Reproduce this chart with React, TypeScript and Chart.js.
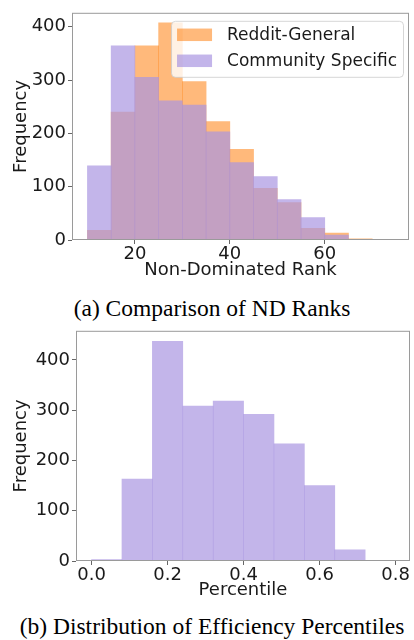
import { useEffect, useRef } from "react";
import { Chart, registerables } from "chart.js";

Chart.register(...registerables);

// ---- Data (a): Non-Dominated Rank histogram ----
const ndBinEdges = [10, 15, 20, 25, 30, 35, 40, 45, 50, 55, 60, 65, 70];
const redditGeneral = [18, 240, 364, 407, 297, 222, 170, 97, 70, 22, 13, 2];
const communitySpecific = [139, 364, 305, 261, 253, 203, 145, 119, 76, 42, 9, 0];
const ndXTicks = [20, 40, 60];
const ndYTicks = [0, 100, 200, 300, 400];
const seriesLabels = ["Reddit-General", "Community Specific"];

// ---- Data (b): Efficiency percentile histogram ----
const pctBinEdges = [0, 0.08, 0.16, 0.24, 0.32, 0.4, 0.48, 0.56, 0.64, 0.72, 0.8];
const efficiencyCounts = [3, 163, 437, 308, 318, 292, 233, 150, 22, 0];
const pctXTicks = [0, 0.2, 0.4, 0.6, 0.8];
const pctYTicks = [0, 100, 200, 300, 400];

const captionA = "(a) Comparison of ND Ranks";
const captionB = "(b) Distribution of Efficiency Percentiles";

const ORANGE = "rgba(255,127,14,0.55)";
const PURPLE = "rgba(170,150,225,0.7)";
const TEXT = "#1a1a1a";
const SPINE = "#9a9a9a";
const FONT = "'DejaVu Sans', sans-serif";
const AXIS_FONT_SIZE = 18;
const LEGEND_FONT_SIZE = 17;

function toPoints(edges: number[], counts: number[]) {
  return counts.map((c, i) => ({ x: (edges[i] + edges[i + 1]) / 2, y: c }));
}

const framePlugin = {
  id: "frame",
  afterDatasetsDraw(chart: any) {
    const { ctx, chartArea } = chart;
    ctx.save();
    ctx.strokeStyle = SPINE;
    ctx.lineWidth = 1;
    ctx.strokeRect(
      chartArea.left + 0.5,
      chartArea.top + 0.5,
      chartArea.right - chartArea.left - 1,
      chartArea.bottom - chartArea.top - 1
    );
    ctx.restore();
  },
};

const insideLegendPlugin = {
  id: "insideLegend",
  afterDraw(chart: any, _args: any, opts: any) {
    if (!opts || !opts.enabled) return;
    const { ctx, chartArea } = chart;
    const datasets = chart.data.datasets;
    ctx.save();
    ctx.font = `${LEGEND_FONT_SIZE}px ${FONT}`;
    let maxW = 0;
    datasets.forEach((d: any) => {
      maxW = Math.max(maxW, ctx.measureText(d.label).width);
    });
    const pad = 6;
    const patchW = 35;
    const patchH = 12.5;
    const gap = 15;
    const rowH = 26;
    const boxW = pad + patchW + gap + maxW + pad;
    const boxH = 14 + rowH * (datasets.length - 1) + 16;
    const right = chartArea.right - 6;
    const left = right - boxW;
    const top = chartArea.top + 8;
    ctx.beginPath();
    (ctx as any).roundRect(left + 0.5, top + 0.5, boxW, boxH, 4);
    ctx.fillStyle = "rgba(255,255,255,0.8)";
    ctx.fill();
    ctx.strokeStyle = "rgba(204,204,204,0.8)";
    ctx.lineWidth = 1;
    ctx.stroke();
    datasets.forEach((d: any, i: number) => {
      const cy = top + 14 + i * rowH;
      ctx.fillStyle = d.backgroundColor;
      ctx.fillRect(left + pad, cy - patchH / 2, patchW, patchH);
      ctx.fillStyle = TEXT;
      ctx.textBaseline = "middle";
      ctx.textAlign = "left";
      ctx.fillText(d.label, left + pad + patchW + gap, cy + 1);
    });
    ctx.restore();
  },
};

interface HistOpts {
  datasets: any[];
  xMin: number;
  xMax: number;
  yMax: number;
  xTicks: number[];
  yTicks: number[];
  xTitle: string;
  xFmt: (v: number) => string;
  yAxisWidth: number;
  xAxisHeight: number;
  padding: { left: number; right: number; top: number; bottom: number };
  legend: boolean;
}

function makeConfig(o: HistOpts): any {
  return {
    type: "bar",
    data: { datasets: o.datasets },
    plugins: [framePlugin, insideLegendPlugin],
    options: {
      animation: false,
      responsive: false,
      maintainAspectRatio: false,
      devicePixelRatio: 1,
      layout: { padding: o.padding },
      datasets: {
        bar: {
          barPercentage: 1,
          categoryPercentage: 1,
          grouped: false,
          borderWidth: 0,
        },
      },
      plugins: {
        legend: { display: false },
        tooltip: { enabled: false },
        insideLegend: { enabled: o.legend },
      },
      scales: {
        x: {
          type: "linear",
          min: o.xMin,
          max: o.xMax,
          offset: false,
          afterBuildTicks: (s: any) => {
            s.ticks = o.xTicks.map((v) => ({ value: v }));
          },
          afterFit: (s: any) => {
            s.height = o.xAxisHeight;
          },
          grid: {
            display: true,
            drawOnChartArea: false,
            drawTicks: true,
            tickLength: 4,
            color: "#666",
            offset: false,
          },
          border: { display: false },
          ticks: {
            color: TEXT,
            font: { family: FONT, size: AXIS_FONT_SIZE },
            padding: 0,
            maxRotation: 0,
            autoSkip: false,
            callback: (v: any) => o.xFmt(Number(v)),
          },
          title: {
            display: true,
            text: o.xTitle,
            color: TEXT,
            font: { family: FONT, size: AXIS_FONT_SIZE },
            padding: { top: 0, bottom: 9 },
          },
        },
        y: {
          type: "linear",
          min: 0,
          max: o.yMax,
          afterBuildTicks: (s: any) => {
            s.ticks = o.yTicks.map((v) => ({ value: v }));
          },
          afterFit: (s: any) => {
            s.width = o.yAxisWidth;
          },
          grid: {
            display: true,
            drawOnChartArea: false,
            drawTicks: true,
            tickLength: 4,
            color: "#666",
          },
          border: { display: false },
          ticks: {
            color: TEXT,
            font: { family: FONT, size: AXIS_FONT_SIZE },
            padding: 2,
            autoSkip: false,
            callback: (v: any) => String(v),
          },
          title: {
            display: true,
            text: "Frequency",
            color: TEXT,
            font: { family: FONT, size: AXIS_FONT_SIZE },
            padding: { top: 11, bottom: 0 },
          },
        },
      },
    },
  };
}

function HistChart({ config, width, height, top }: { config: any; width: number; height: number; top: number }) {
  const ref = useRef<HTMLCanvasElement | null>(null);
  useEffect(() => {
    if (!ref.current) return;
    const chart = new Chart(ref.current, config);
    return () => chart.destroy();
  }, [config]);
  return (
    <canvas
      ref={ref}
      width={width}
      height={height}
      style={{ position: "absolute", left: 0, top, width, height }}
    />
  );
}

const configA = makeConfig({
  datasets: [
    {
      label: seriesLabels[0],
      data: toPoints(ndBinEdges, redditGeneral),
      backgroundColor: ORANGE,
      order: 1,
    },
    {
      label: seriesLabels[1],
      data: toPoints(ndBinEdges, communitySpecific),
      backgroundColor: PURPLE,
      order: 0,
    },
  ],
  xMin: 6.75,
  xMax: 77.75,
  yMax: 426,
  xTicks: ndXTicks,
  yTicks: ndYTicks,
  xTitle: "Non-Dominated Rank",
  xFmt: (v) => String(Math.round(v)),
  yAxisWidth: 72,
  xAxisHeight: 50,
  padding: { left: 0, right: 5, top: 5, bottom: 0 },
  legend: true,
});

const configB = makeConfig({
  datasets: [
    {
      label: "Efficiency Percentile",
      data: toPoints(pctBinEdges, efficiencyCounts),
      backgroundColor: PURPLE,
    },
  ],
  xMin: -0.041,
  xMax: 0.838,
  yMax: 458,
  xTicks: pctXTicks,
  yTicks: pctYTicks,
  xTitle: "Percentile",
  xFmt: (v) => v.toFixed(1),
  yAxisWidth: 76,
  xAxisHeight: 49,
  padding: { left: 0, right: 4, top: 10, bottom: 0 },
  legend: false,
});

const captionStyle = (top: number): any => ({
  position: "absolute",
  left: 5,
  top,
  width: 414,
  textAlign: "center",
  fontFamily: "'Liberation Serif', 'Times New Roman', serif",
  fontSize: "23.5px",
  lineHeight: "23.5px",
  color: "#000",
  whiteSpace: "nowrap",
});

export default function App() {
  return (
    <div style={{ position: "absolute", left: 0, top: 0, width: 414, height: 640, background: "#fff", overflow: "hidden" }}>
      <HistChart config={configA} width={414} height={290} top={0} />
      <div style={captionStyle(297)}>{captionA}</div>
      <HistChart config={configB} width={414} height={292} top={318} />
      <div style={captionStyle(615)}>{captionB}</div>
    </div>
  );
}
